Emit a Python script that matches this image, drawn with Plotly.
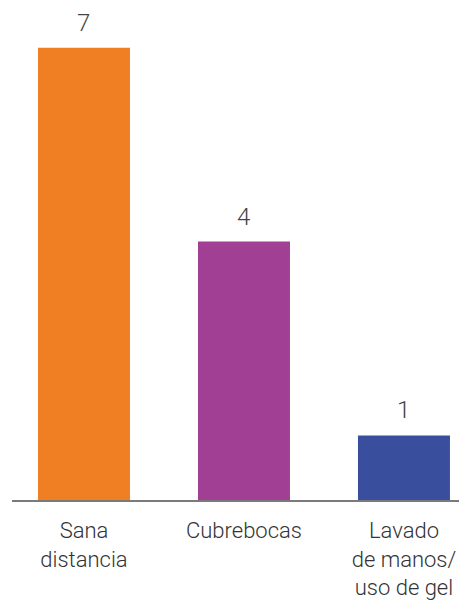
import plotly.graph_objects as go

categories = ["Sana<br>distancia", "Cubrebocas", "Lavado<br>de manos/<br>uso de gel"]
values = [7, 4, 1]
colors = ["#EF7F22", "#A03F93", "#3A4E9E"]

fig = go.Figure()
fig.add_trace(go.Bar(
    x=list(range(len(categories))),
    y=values,
    marker=dict(color=colors, line=dict(width=0)),
    width=0.575,
    hoverinfo="skip",
))

for i, v in enumerate(values):
    fig.add_annotation(
        x=i, y=v, text=str(v), showarrow=False,
        yanchor="bottom", yshift=9,
        font=dict(family="Roboto", size=24, color="#444444", weight=300),
    )

fig.update_layout(
    width=467, height=604,
    margin=dict(l=4, r=8, t=2, b=112),
    plot_bgcolor="white", paper_bgcolor="white",
    showlegend=False,
    xaxis=dict(
        range=[-0.45, 2.394],
        tickmode="array",
        tickvals=list(range(len(categories))),
        ticktext=categories,
        showline=True, linecolor="#7a7a7a", linewidth=1.5,
        showgrid=False, zeroline=False, ticks="",
        ticklabelstandoff=10,
        tickfont=dict(family="Roboto", size=22, color="#333333", weight=300),
    ),
    yaxis=dict(
        range=[0, 7.585],
        visible=False, showgrid=False, zeroline=False,
    ),
)

fig.write_html("out.html")
